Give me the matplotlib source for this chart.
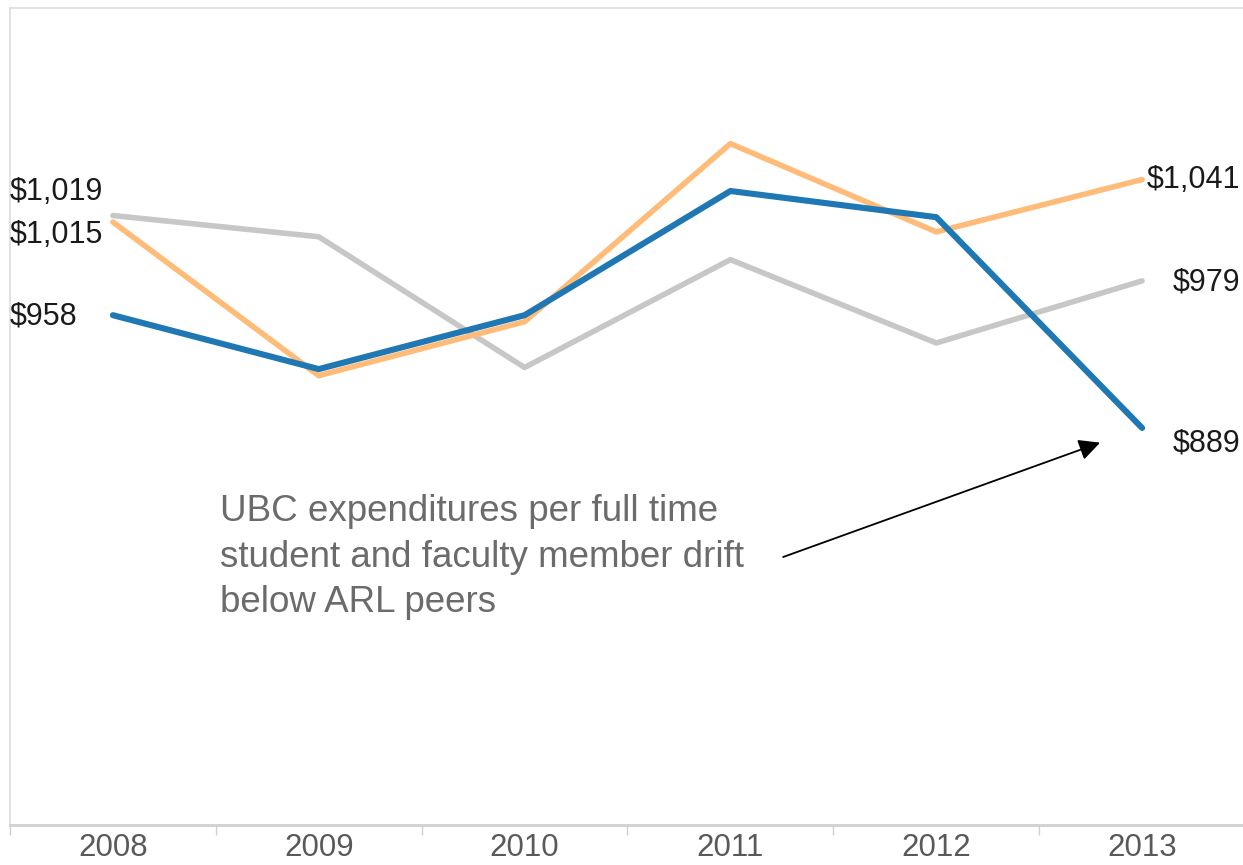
import numpy as np
import matplotlib.pyplot as plt
from matplotlib.transforms import blended_transform_factory

plt.rcParams['font.family'] = ['Liberation Sans', 'DejaVu Sans']

years = ['2008', '2009', '2010', '2011', '2012', '2013']
ubc = [958, 925, 958, 1034, 1018, 889]          # blue
arl_median = [1015, 921, 954, 1063, 1009, 1041]  # orange
canadian = [1019, 1006, 926, 992, 941, 979]      # gray

note = "UBC expenditures per full time\nstudent and faculty member drift\nbelow ARL peers"

fig = plt.figure(figsize=(12.43, 8.65), dpi=100)
ax = fig.add_axes([10 / 1243, 40 / 865, 1235 / 1243, 817 / 865])

x = np.arange(len(years))
ax.plot(x, canadian, color='#c7c7c7', lw=4.0, solid_capstyle='round', zorder=2)
ax.plot(x, arl_median, color='#ffbb78', lw=4.0, solid_capstyle='round', zorder=3)
ax.plot(x, ubc, color='#1f77b4', lw=4.4, solid_capstyle='round', zorder=4)

ax.set_xlim(-0.5, 5.5)
ax.set_ylim(646, 1146)

# frame
for s in ['left', 'top', 'right']:
    ax.spines[s].set_color('#dddddd')
    ax.spines[s].set_linewidth(1.2)
ax.spines['bottom'].set_color('#d0d0d0')
ax.spines['bottom'].set_linewidth(2)
ax.set_yticks([])
ax.set_xticks(x)
ax.set_xticklabels(years, fontsize=22.5, color='#595959')
ax.tick_params(axis='x', which='major', length=0, pad=6)
ax.set_xticks(np.arange(-0.5, 6, 1), minor=True)
ax.tick_params(axis='x', which='minor', length=7, width=1, color='#d0d0d0')

# end labels
lab = dict(fontsize=22, color='#1a1a1a', va='center')
tl = blended_transform_factory(ax.transAxes, ax.transData)
ax.annotate('$1,019', (0, canadian[0]), xycoords=tl, xytext=(0, 17),
            textcoords='offset points', ha='left', **lab)
ax.annotate('$1,015', (0, arl_median[0]), xycoords=tl, xytext=(0, -9),
            textcoords='offset points', ha='left', **lab)
ax.annotate('$958', (0, ubc[0]), xycoords=tl, xytext=(0, -1),
            textcoords='offset points', ha='left', **lab)
ax.annotate('$1,041', (x[-1], arl_median[-1]), xytext=(71, 0),
            textcoords='offset points', ha='right', **lab)
ax.annotate('$979', (x[-1], canadian[-1]), xytext=(71, -1),
            textcoords='offset points', ha='right', **lab)
ax.annotate('$889', (x[-1], ubc[-1]), xytext=(71, -11),
            textcoords='offset points', ha='right', **lab)

# note + arrow
ax.text(0.52, 810, note, fontsize=26.5, color='#6b6b6b', ha='left', va='center',
        linespacing=1.38)
ax.annotate('', xy=(4.796, 880), xytext=(3.256, 810),
            arrowprops=dict(arrowstyle='-|>', color='black', lw=1.3,
                            mutation_scale=32, shrinkA=0, shrinkB=0))

fig.savefig('out.png', dpi=100)
